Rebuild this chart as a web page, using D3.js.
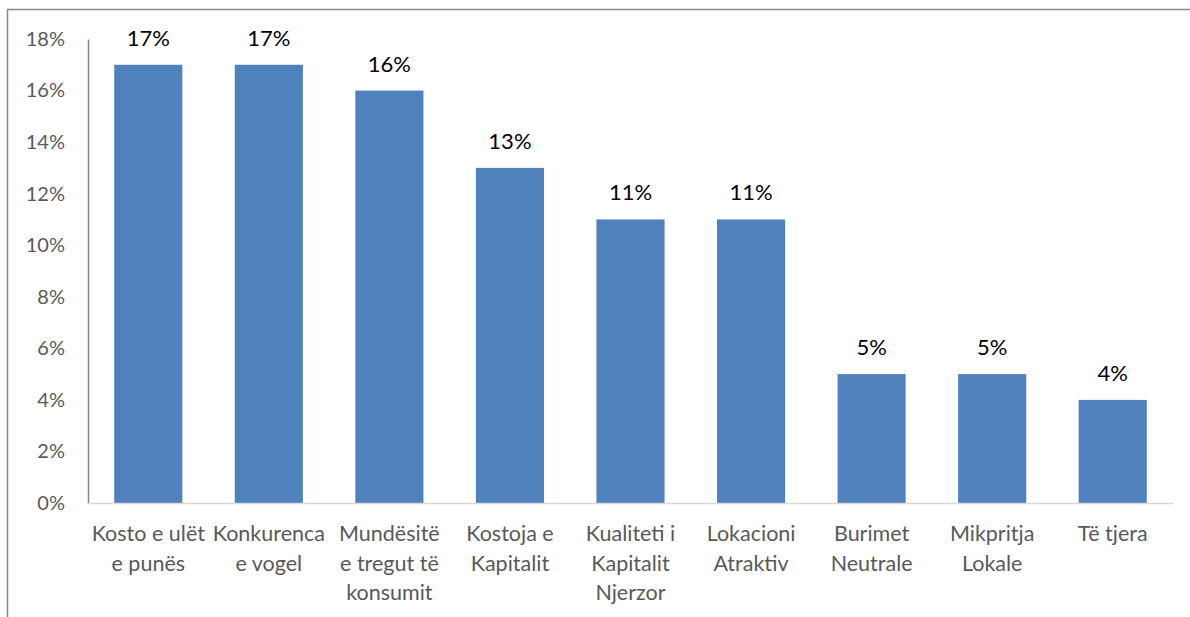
<!DOCTYPE html>
<html>
<head>
<meta charset="utf-8">
<script src="https://cdn.jsdelivr.net/npm/d3@7"></script>
<style>
  body { margin: 0; background: #fff; }
  text { font-family: Lato, "Open Sans", sans-serif; }
</style>
</head>
<body>
<svg id="chart" width="1190" height="617"></svg>
<script>
const categories = [
  'Kosto e ulët\ne punës',
  'Konkurenca\ne vogel',
  'Mundësitë\ne tregut të\nkonsumit',
  'Kostoja e\nKapitalit',
  'Kualiteti i\nKapitalit\nNjerzor',
  'Lokacioni\nAtraktiv',
  'Burimet\nNeutrale',
  'Mikpritja\nLokale',
  'Të tjera'
];
const values = [17, 17, 16, 13, 11, 11, 5, 5, 4];
const yTicks = [0, 2, 4, 6, 8, 10, 12, 14, 16, 18];

const dims = {
  width: 1190,
  height: 617,
  margin: { left: 88, right: 17, top: 39, bottom: 114 }
};

const svg = d3.select('#chart');

// outer frame
svg.append('rect')
  .attr('x', 7.5)
  .attr('y', 9.5)
  .attr('width', 1190)
  .attr('height', 700)
  .attr('fill', 'none')
  .attr('stroke', '#898989')
  .attr('stroke-width', 1.5);

const plotW = dims.width - dims.margin.left - dims.margin.right;
const plotH = dims.height - dims.margin.top - dims.margin.bottom;

const xScale = d3.scaleBand()
  .domain(categories)
  .range([0, plotW])
  .paddingInner(0.435)
  .paddingOuter(0.2175);

const yScale = d3.scaleLinear()
  .domain([0, 18])
  .range([plotH, 0]);

const g = svg.append('g')
  .attr('transform', `translate(${dims.margin.left}, ${dims.margin.top})`);

// y axis
const yAxis = d3.axisLeft(yScale)
  .tickValues(yTicks)
  .tickFormat(d => d + '%')
  .tickSize(0)
  .tickPadding(23);

const yG = g.append('g').call(yAxis);
yG.attr('font-family', null).attr('font-size', null);
yG.select('.domain').attr('stroke', '#868686').attr('stroke-width', 1.5);
yG.selectAll('text')
  .attr('fill', '#595959')
  .style('font-size', '20px');

// bars
g.selectAll('rect.bar')
  .data(values)
  .enter()
  .append('rect')
  .attr('class', 'bar')
  .attr('x', (d, i) => xScale(categories[i]))
  .attr('y', d => yScale(d))
  .attr('width', xScale.bandwidth())
  .attr('height', d => plotH - yScale(d))
  .attr('fill', '#4F81BD');

// baseline
const xAxis = d3.axisBottom(xScale).tickSize(0).tickFormat('');
const xG = g.append('g')
  .attr('transform', `translate(0, ${plotH})`)
  .call(xAxis);
xG.select('.domain').attr('stroke', '#d9d9d9').attr('stroke-width', 1.5);

// data labels
g.selectAll('text.val')
  .data(values)
  .enter()
  .append('text')
  .attr('class', 'val')
  .attr('x', (d, i) => xScale(categories[i]) + xScale.bandwidth() / 2)
  .attr('y', d => yScale(d) - 19)
  .attr('text-anchor', 'middle')
  .attr('fill', '#000')
  .style('font-size', '22px')
  .text(d => d + '%');

// category labels
const catLabels = g.selectAll('text.cat')
  .data(categories)
  .enter()
  .append('text')
  .attr('class', 'cat')
  .attr('text-anchor', 'middle')
  .attr('fill', '#595959')
  .style('font-size', '21.5px')
  .attr('transform', d => `translate(${xScale(d) + xScale.bandwidth() / 2}, ${plotH + 38})`);

catLabels.selectAll('tspan')
  .data(d => d.split('\n'))
  .enter()
  .append('tspan')
  .attr('x', 0)
  .attr('y', (d, i) => i * 29.5)
  .text(d => d);
</script>
</body>
</html>
